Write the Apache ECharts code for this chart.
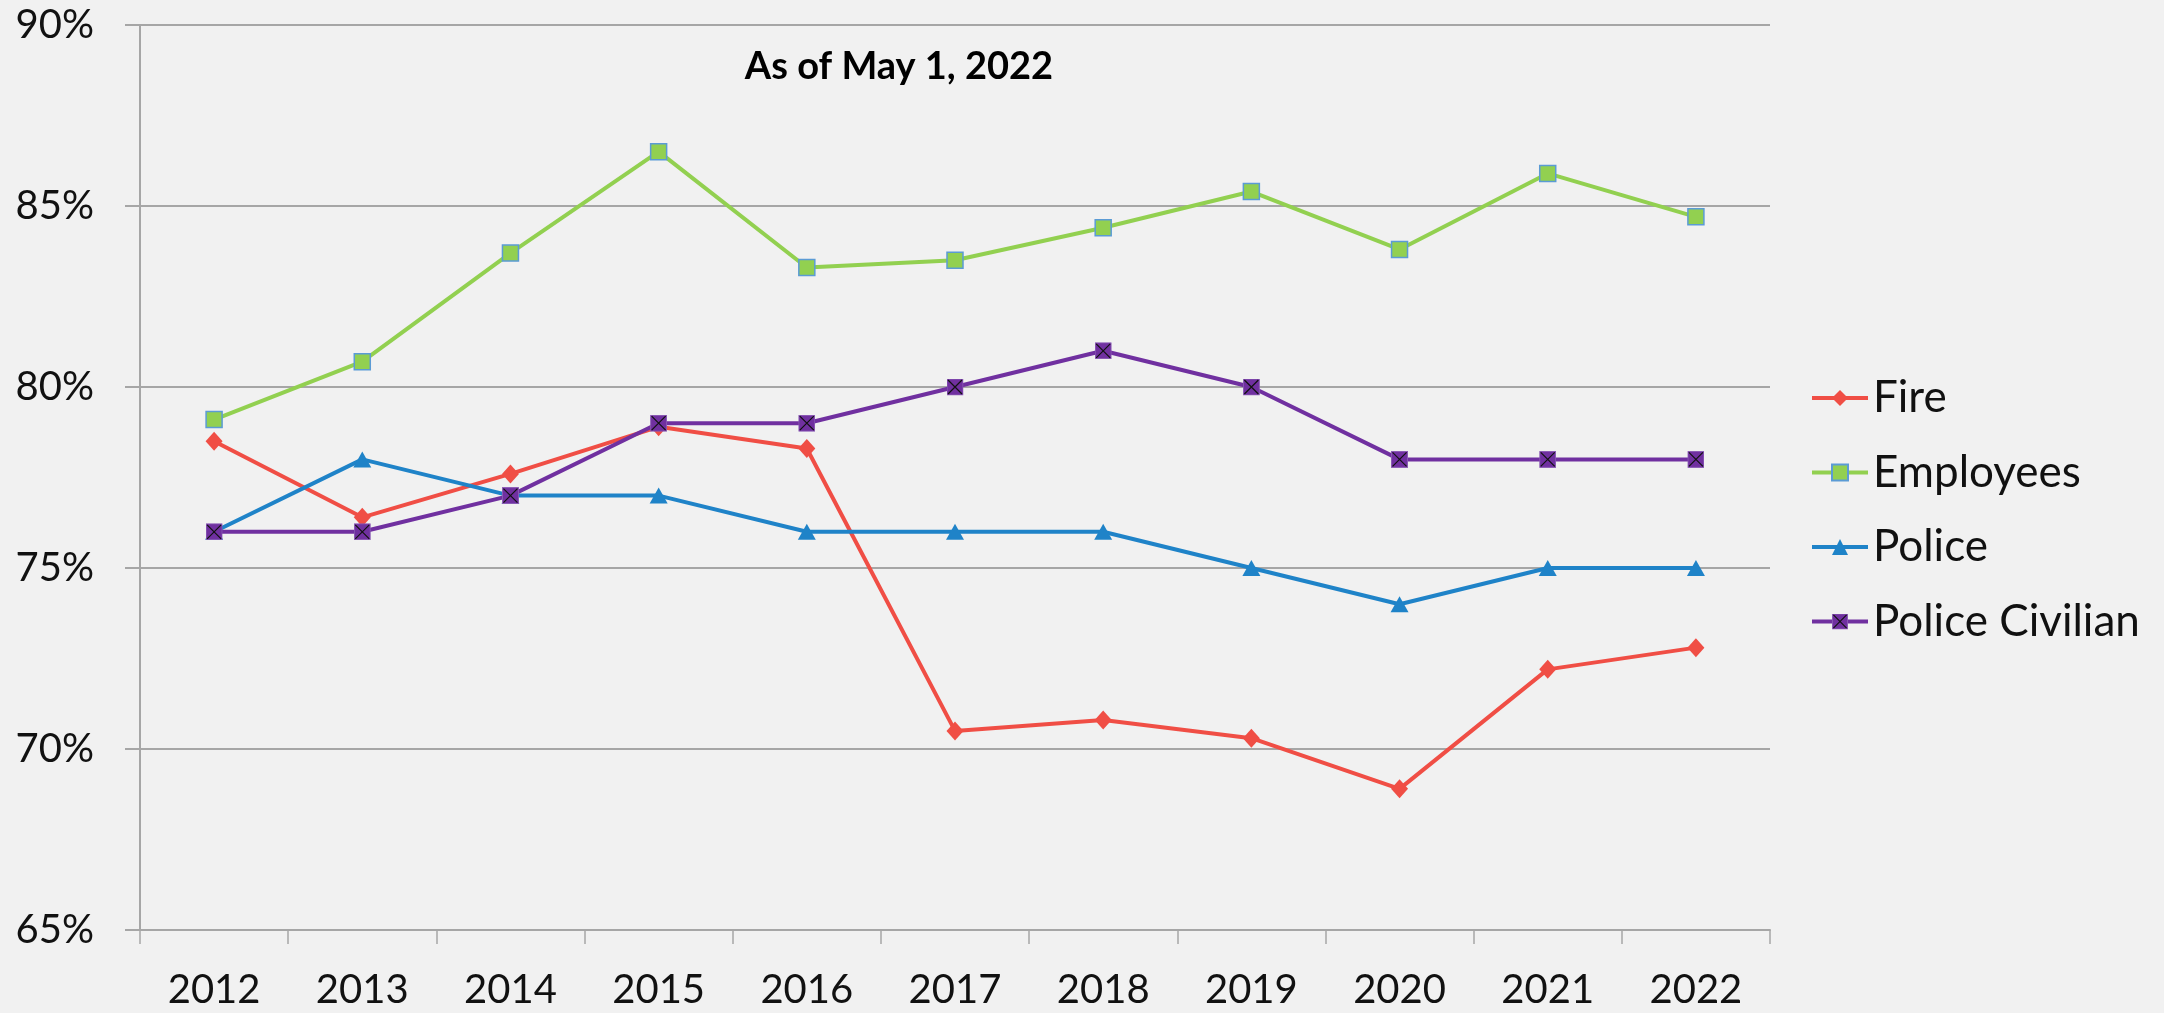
<!DOCTYPE html>
<html>
<head>
<meta charset="utf-8">
<script src="https://cdn.jsdelivr.net/npm/echarts@6/dist/echarts.min.js"></script>
<style>
html,body{margin:0;padding:0;background:#F1F1F1;}
#chart{width:2164px;height:1013px;}
</style>
</head>
<body>
<div id="chart"></div>
<script>
const years = ['2012','2013','2014','2015','2016','2017','2018','2019','2020','2021','2022'];
const fire = [78.5, 76.4, 77.6, 78.9, 78.3, 70.5, 70.8, 70.3, 68.9, 72.2, 72.8];
const employees = [79.1, 80.7, 83.7, 86.5, 83.3, 83.5, 84.4, 85.4, 83.8, 85.9, 84.7];
const police = [76, 78, 77, 77, 76, 76, 76, 75, 74, 75, 75];
const policeCivilian = [76, 76, 77, 79, 79, 80, 81, 80, 78, 78, 78];
const yTicks = {min: 65, max: 90, interval: 5};
const titleText = 'As of May 1, 2022';

const xSvg = '<svg xmlns="http://www.w3.org/2000/svg" width="34" height="34" viewBox="0 0 17 17">' +
  '<rect x="0.5" y="0.5" width="16" height="16" fill="#7030A0" stroke="#8A5AB5" stroke-width="1"/>' +
  '<path d="M1.5 1.5L15.5 15.5M15.5 1.5L1.5 15.5" stroke="#111" stroke-width="1.2"/></svg>';
const xSymbol = 'image://data:image/svg+xml;utf8,' + encodeURIComponent(xSvg);

const chart = echarts.init(document.getElementById('chart'));
const FONT = 'Lato';
chart.setOption({
  backgroundColor: '#F1F1F1',
  animation: false,
  title: {
    text: titleText,
    left: 899, top: 48, textAlign: 'center', padding: 0,
    textStyle: {fontFamily: FONT, fontWeight: 'bold', fontSize: 38, color: '#000'}
  },
  legend: {
    orient: 'vertical',
    left: 1810, top: 376, padding: 0,
    itemWidth: 56, itemHeight: 20, itemGap: 30.5,
    lineStyle: {width: 4},
    textStyle: {fontFamily: FONT, fontSize: 44, color: '#111'},
    data: ['Fire', 'Employees', 'Police', 'Police Civilian']
  },
  grid: {left: 140, right: 394, top: 25, bottom: 83, containLabel: false},
  xAxis: {
    type: 'category',
    data: years,
    boundaryGap: true,
    axisLine: {lineStyle: {color: '#A6A6A6', width: 2}},
    axisTick: {show: true, length: 14, lineStyle: {color: '#A6A6A6', width: 1.5}},
    axisLabel: {fontFamily: FONT, fontSize: 40, color: '#111', margin: 40}
  },
  yAxis: {
    type: 'value',
    min: yTicks.min, max: yTicks.max, interval: yTicks.interval,
    axisLine: {show: true, lineStyle: {color: '#A6A6A6', width: 2}},
    axisTick: {show: true, length: 15, lineStyle: {color: '#A6A6A6', width: 2}},
    splitLine: {lineStyle: {color: '#A6A6A6', width: 2}},
    axisLabel: {fontFamily: FONT, fontSize: 40, color: '#111', margin: 46, formatter: '{value}%'}
  },
  series: [
    {name: 'Fire', type: 'line', data: fire, symbol: 'diamond', symbolSize: [17, 19],
     lineStyle: {color: '#F04E45', width: 4}, itemStyle: {color: '#F04E45'}},
    {name: 'Employees', type: 'line', data: employees, symbol: 'rect', symbolSize: 16,
     lineStyle: {color: '#92D050', width: 4}, itemStyle: {color: '#92D050', borderColor: '#5B9BD5', borderWidth: 1.5}},
    {name: 'Police', type: 'line', data: police, symbol: 'triangle', symbolSize: [18, 16],
     lineStyle: {color: '#1F83C8', width: 4}, itemStyle: {color: '#1F83C8'}},
    {name: 'Police Civilian', type: 'line', data: policeCivilian, symbol: xSymbol, symbolSize: 17,
     lineStyle: {color: '#7030A0', width: 4}, itemStyle: {color: '#7030A0'}}
  ]
});
</script>
</body>
</html>
